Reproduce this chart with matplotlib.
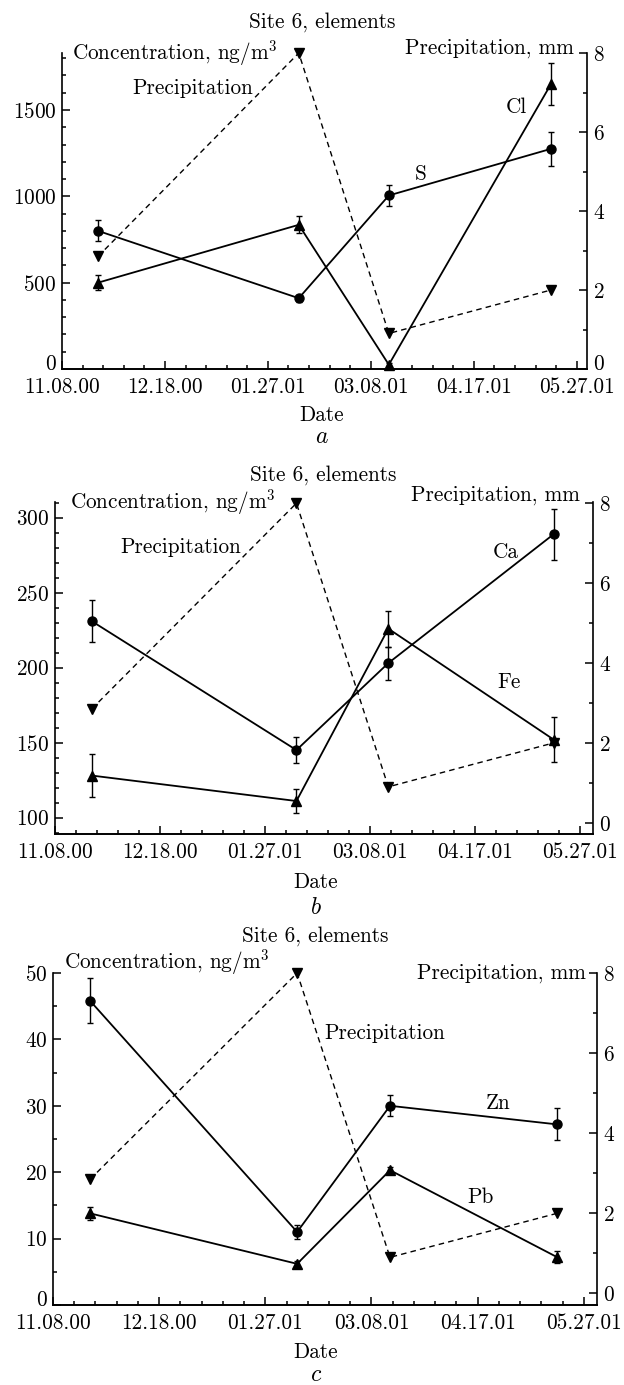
import numpy as np
import matplotlib
matplotlib.use("Agg")
import matplotlib.pyplot as plt
import matplotlib.dates as mdates
import matplotlib.transforms as mtransforms
from matplotlib.ticker import FixedLocator, MultipleLocator

plt.rcParams['font.family'] = ['cmr10', 'DejaVu Serif']
plt.rcParams['mathtext.fontset'] = 'cm'
plt.rcParams['axes.formatter.use_mathtext'] = True

W, H = 624, 1385
FS = 15.3

# ---------------- data ----------------
sample_dates = ["2000-11-22", "2001-02-08", "2001-03-15", "2001-05-17"]
precip_mm = [2.85, 8.0, 0.9, 2.0]

s_conc = [800, 410, 1005, 1275]
s_err = [60, 20, 60, 100]
cl_conc = [500, 835, 25, 1650]
cl_err = [45, 50, 10, 120]

ca_conc = [231, 145, 203, 289]
ca_err = [14, 8.5, 11, 17]
fe_conc = [128, 111, 226, 152]
fe_err = [14.5, 8, 12, 15]

zn_conc = [45.8, 11.0, 30.0, 27.2]
zn_err = [3.4, 1.0, 1.6, 2.4]
pb_conc = [13.8, 6.2, 20.3, 7.2]
pb_err = [1.0, 0.4, 0.5, 0.9]

date_ticks = ["2000-11-08", "2000-12-18", "2001-01-27",
              "2001-03-08", "2001-04-17", "2001-05-27"]
right_ticks = [0, 2, 4, 6, 8]

title_text = "Site 6, elements"
conc_label = "Concentration, ng/m$^3$"
precip_axis_label = "Precipitation, mm"
precip_label = "Precipitation"

# ---------------- helpers ----------------
x_dates = mdates.datestr2num(sample_dates)
x_ticks = mdates.datestr2num(date_ticks)
x_minor = np.arange(x_ticks[0], x_ticks[-1] + 1, 8)

fig = plt.figure(figsize=(W / 100, H / 100), dpi=100)


def ftext(x, y, s, ha='center', size=FS, **kw):
    fig.text(x / W, 1 - y / H, s, ha=ha, va='center', fontsize=size, **kw)


def nudge_first_label(axis, dy_px):
    ticks = axis.get_major_ticks(len(axis.get_majorticklocs()))
    lab = ticks[0]
    off = mtransforms.ScaledTranslation(0, dy_px / 100, fig.dpi_scale_trans)
    lab.label1.set_transform(lab.label1.get_transform() + off)
    lab.label2.set_transform(lab.label2.get_transform() + off)


def panel(rect, ylim, yticks, yminor, y2lim, xend, series, nudge_l, nudge_r):
    l, r, t, b = rect
    ax = fig.add_axes([l / W, 1 - b / H, (r - l) / W, (b - t) / H])
    ax2 = ax.twinx()
    for a in (ax, ax2):
        a.spines['top'].set_visible(False)
        for sp in a.spines.values():
            sp.set_linewidth(1.2)
        a.tick_params(which='major', direction='in', length=6, width=1.1,
                      labelsize=FS)
        a.tick_params(which='minor', direction='in', length=3, width=1.1)
    ax2.spines['left'].set_visible(False)
    ax.spines['right'].set_visible(False)
    ax.yaxis.set_ticks_position('left')
    ax.xaxis.set_ticks_position('bottom')
    ax.tick_params(axis='y', pad=4)
    ax.tick_params(axis='x', pad=6)
    ax2.tick_params(axis='y', pad=4)

    ax.set_xlim(x_ticks[0], mdates.datestr2num(xend))
    ax.xaxis.set_major_locator(FixedLocator(x_ticks))
    ax.xaxis.set_minor_locator(FixedLocator(x_minor))
    ax.xaxis.set_major_formatter(mdates.DateFormatter('%m.%d.%y'))

    ax.set_ylim(*ylim)
    ax.yaxis.set_major_locator(FixedLocator(yticks))
    ax.yaxis.set_minor_locator(MultipleLocator(yminor))
    ax2.set_ylim(*y2lim)
    ax2.yaxis.set_major_locator(FixedLocator(right_ticks))
    ax2.yaxis.set_minor_locator(MultipleLocator(1))

    for vals, errs, mk, ms in series:
        ax.errorbar(x_dates, vals, yerr=errs, fmt='-', marker=mk, color='k',
                    ms=ms, lw=1.3, elinewidth=1.0, capsize=2.5, capthick=1.0,
                    clip_on=False, zorder=3)
    ax2.plot(x_dates, precip_mm, color='k', lw=1.0, ls=(0, (4, 3)),
             marker='v', ms=7, clip_on=False, zorder=3)

    if nudge_l:
        nudge_first_label(ax.yaxis, 7)
    if nudge_r:
        nudge_first_label(ax2.yaxis, 7)
    return ax, ax2


# ---------------- panel a ----------------
panel((62, 587, 53, 369), (0, 1830), [0, 500, 1000, 1500], 100,
      (0, 8), "2001-05-31",
      [(s_conc, s_err, 'o', 6.5), (cl_conc, cl_err, '^', 7)],
      True, True)
ftext(322, 22, title_text)
ftext(72, 53, conc_label, ha='left')
ftext(574, 48, precip_axis_label, ha='right')
ftext(132, 88, precip_label, ha='left')
ftext(421, 174, "S")
ftext(516, 107, "Cl")
ftext(322, 415, "Date")
ftext(322, 437, "$a$", size=17)

# ---------------- panel b ----------------
panel((55, 593, 502, 834), (89, 310.5), [100, 150, 200, 250, 300], 10,
      (-0.28, 8.03), "2001-06-01",
      [(ca_conc, ca_err, 'o', 6.5), (fe_conc, fe_err, '^', 7)],
      False, False)
ftext(323, 475, title_text)
ftext(70, 502, conc_label, ha='left')
ftext(580, 495, precip_axis_label, ha='right')
ftext(120, 547, precip_label, ha='left')
ftext(506, 552, "Ca")
ftext(509, 682, "Fe")
ftext(316, 882, "Date")
ftext(316, 908, "$b$", size=17)

# ---------------- panel c ----------------
panel((53, 597, 973, 1305), (0, 50), [0, 10, 20, 30, 40, 50], 5,
      (-0.29, 8.0), "2001-06-01",
      [(zn_conc, zn_err, 'o', 6.5), (pb_conc, pb_err, '^', 7)],
      True, False)
ftext(315, 936, title_text)
ftext(64, 962, conc_label, ha='left')
ftext(586, 973, precip_axis_label, ha='right')
ftext(324, 1033, precip_label, ha='left')
ftext(498, 1103, "Zn")
ftext(480, 1197, "Pb")
ftext(316, 1352, "Date")
ftext(316, 1375, "$c$", size=17)

fig.savefig("out.png", dpi=100, facecolor='white')
